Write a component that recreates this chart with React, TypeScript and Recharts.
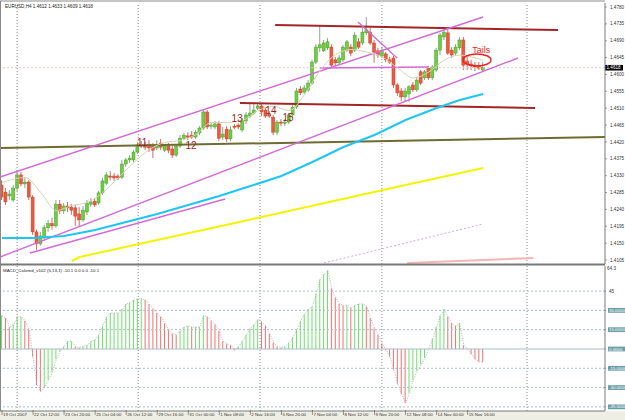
import React from "react"
import { ComposedChart, Bar, Line, XAxis, YAxis, ReferenceLine, ReferenceDot, Cell } from "recharts"

// EURUSD H4 candles, bar 0 = 19 Oct 2007
const opens = [
  1.4305, 1.4286, 1.4276, 1.4265, 1.4297, 1.4332, 1.4308, 1.4313, 1.4273, 1.418,
  1.4148, 1.4164, 1.4191, 1.4202, 1.4196, 1.4254, 1.4236, 1.4249, 1.4246, 1.4244,
  1.4228, 1.4212, 1.4233, 1.4254, 1.4262, 1.4257, 1.4284, 1.431, 1.4329, 1.4329,
  1.4329, 1.4326, 1.4361, 1.4372, 1.4372, 1.4393, 1.4412, 1.4412, 1.4414, 1.4409,
  1.4404, 1.4417, 1.4398, 1.4409, 1.4401, 1.4385, 1.4409, 1.443, 1.4436, 1.4438,
  1.4433, 1.4444, 1.4457, 1.45, 1.4462, 1.446, 1.4468, 1.4433, 1.4454, 1.4428,
  1.4462, 1.4465, 1.4452, 1.4476, 1.4489, 1.4497, 1.451, 1.4516, 1.4505, 1.4494,
  1.4486, 1.4446, 1.4473, 1.447, 1.4473, 1.4492, 1.4513, 1.4561, 1.4553, 1.4558,
  1.4577, 1.4633, 1.4671, 1.4663, 1.4671, 1.4673, 1.4639, 1.4631, 1.4639, 1.4665,
  1.4673, 1.4665, 1.4687, 1.4684, 1.4711, 1.4713, 1.4684, 1.4663, 1.4649, 1.4655,
  1.4639, 1.4644, 1.4572, 1.4556, 1.454, 1.4548, 1.4572, 1.4559, 1.4607, 1.4591,
  1.4617, 1.4591, 1.4612, 1.4665, 1.47, 1.4711, 1.4665, 1.4657, 1.4671, 1.4692,
  1.4636, 1.4628, 1.4625, 1.4623, 1.4612,
]
const highs = [
  1.4318, 1.4297, 1.4292, 1.4305, 1.4345, 1.434, 1.4324, 1.4318, 1.4278, 1.4186,
  1.418, 1.4199, 1.4212, 1.4218, 1.4265, 1.4265, 1.4257, 1.426, 1.4254, 1.4252,
  1.4246, 1.4249, 1.4265, 1.427, 1.427, 1.4289, 1.4324, 1.434, 1.4342, 1.4337,
  1.4334, 1.4372, 1.4377, 1.4385, 1.4398, 1.442, 1.4422, 1.442, 1.4425, 1.4417,
  1.4425, 1.4428, 1.4414, 1.4417, 1.4409, 1.4414, 1.4438, 1.4444, 1.4446, 1.4449,
  1.4452, 1.4462, 1.4505, 1.4505, 1.4473, 1.4476, 1.4476, 1.446, 1.4462, 1.4462,
  1.4468, 1.447, 1.4484, 1.45, 1.4524, 1.4524, 1.4524, 1.4521, 1.4513, 1.4502,
  1.4492, 1.4478, 1.4481, 1.4481, 1.4497, 1.4518, 1.4564, 1.4569, 1.4572, 1.4585,
  1.4639, 1.4681, 1.4732, 1.4692, 1.4697, 1.4681, 1.4647, 1.4652, 1.4679, 1.4692,
  1.4681, 1.4713, 1.4697, 1.4724, 1.4753, 1.4724, 1.4692, 1.4671, 1.4673, 1.466,
  1.4647, 1.4649, 1.4577, 1.4564, 1.4564, 1.4572, 1.458, 1.4593, 1.4612, 1.4612,
  1.4623, 1.4625, 1.4671, 1.4711, 1.4727, 1.4719, 1.4673, 1.4681, 1.47, 1.47,
  1.4647, 1.4639, 1.4633, 1.4633, 1.4633,
]
const lows = [
  1.4265, 1.4252, 1.4265, 1.426, 1.4289, 1.4302, 1.4297, 1.4265, 1.4172, 1.4132,
  1.4143, 1.4159, 1.418, 1.4186, 1.4191, 1.4228, 1.4228, 1.4233, 1.4226, 1.4196,
  1.4193, 1.4207, 1.4225, 1.4246, 1.4246, 1.4252, 1.4278, 1.4305, 1.4318, 1.4316,
  1.4318, 1.4321, 1.4353, 1.4364, 1.4366, 1.4388, 1.4404, 1.4398, 1.4393, 1.4377,
  1.4398, 1.4398, 1.4393, 1.439, 1.4377, 1.438, 1.4404, 1.4425, 1.4425, 1.4428,
  1.4428, 1.4438, 1.4452, 1.4454, 1.4454, 1.4454, 1.4422, 1.4425, 1.442, 1.4422,
  1.4454, 1.4454, 1.4446, 1.4468, 1.4484, 1.4492, 1.4505, 1.4489, 1.4484, 1.4484,
  1.4438, 1.4438, 1.4462, 1.4462, 1.4468, 1.4486, 1.4508, 1.4545, 1.4548, 1.4553,
  1.4572, 1.4628, 1.466, 1.466, 1.4665, 1.4617, 1.4623, 1.4625, 1.4633, 1.466,
  1.4649, 1.466, 1.4668, 1.4679, 1.4705, 1.4679, 1.4631, 1.4644, 1.4644, 1.4633,
  1.4628, 1.4564, 1.4543, 1.4529, 1.4529, 1.4527, 1.4553, 1.4553, 1.4572, 1.4585,
  1.4585, 1.4585, 1.4607, 1.4652, 1.4692, 1.4652, 1.4644, 1.4649, 1.4665, 1.4612,
  1.4612, 1.4612, 1.4609, 1.4612, 1.4609,
]
const closes = [
  1.4273, 1.426, 1.4281, 1.4297, 1.4332, 1.4308, 1.4313, 1.4273, 1.418, 1.4148,
  1.4169, 1.4191, 1.4202, 1.4196, 1.4254, 1.4236, 1.4249, 1.4244, 1.4238, 1.4222,
  1.4212, 1.4238, 1.4257, 1.426, 1.4252, 1.4284, 1.4316, 1.4332, 1.4326, 1.4324,
  1.4324, 1.4361, 1.4372, 1.4377, 1.4393, 1.4412, 1.4409, 1.4406, 1.4404, 1.4398,
  1.4412, 1.4406, 1.4409, 1.4398, 1.4385, 1.4409, 1.443, 1.4438, 1.4433, 1.4433,
  1.4446, 1.4457, 1.45, 1.446, 1.4465, 1.4468, 1.443, 1.4441, 1.4428, 1.4452,
  1.446, 1.446, 1.4478, 1.4492, 1.4497, 1.4505, 1.4516, 1.45, 1.4489, 1.4489,
  1.4446, 1.4473, 1.447, 1.4473, 1.4492, 1.4513, 1.4556, 1.4551, 1.4564, 1.4577,
  1.4633, 1.4673, 1.4679, 1.4684, 1.4687, 1.4625, 1.4631, 1.4644, 1.4673, 1.4687,
  1.4657, 1.4705, 1.4673, 1.4713, 1.4719, 1.4684, 1.466, 1.4652, 1.4665, 1.4639,
  1.4633, 1.4572, 1.4551, 1.454, 1.4556, 1.4567, 1.4559, 1.4585, 1.4577, 1.4607,
  1.4591, 1.462, 1.4665, 1.4705, 1.4713, 1.4657, 1.4652, 1.4673, 1.4692, 1.4625,
  1.4628, 1.4623, 1.462, 1.4617, 1.4618,
]

// MACD_Colored (5,13,1) histogram
const macd = [
  26, 24, 17, 19, 25, 25, 22, 15, -6, -28,
  -33, -30, -24, -18, -8, -2, 2, 6, 6, 2,
  1, 2, 3, 6, 7, 11, 18, 25, 28, 28,
  28, 31, 35, 36, 38, 39, 39, 38, 35, 31,
  28, 25, 20, 15, 12, 11, 14, 17, 18, 17,
  17, 17, 26, 25, 22, 19, 14, 6, 4, 3,
  -1, 2, 6, 11, 16, 19, 23, 21, 18, 12,
  5, 2, 1, 2, 5, 9, 15, 22, 27, 31,
  33, 43, 54, 58, 61, 47, 40, 35, 34, 34,
  32, 34, 35, 35, 33, 24, 16, 11, 4, -1,
  -6, -16, -27, -35, -42, -34, -24, -17, -12, -7,
  0, 8, 17, 26, 31, 25, 20, 18, 20, 3,
  0, -4, -8, -10, -10.1,
]

// moving averages, [bar, price]
const cyanMA = [
  [0, 1.41637], [8, 1.41637], [16, 1.4169], [24, 1.4185], [32, 1.42064], [40, 1.42277],
  [48, 1.42517], [56, 1.42757], [64, 1.43024], [72, 1.43291], [80, 1.43665], [88, 1.44065],
  [96, 1.44386], [104, 1.44785], [112, 1.45105], [118, 1.45319], [124, 1.45479],
]
const yellowMA = [[18, 1.41023], [20, 1.4113], [40, 1.41583], [60, 1.42037], [82, 1.42544], [104, 1.43051], [124, 1.43504]]
const dottedMA = [[83, 1.4097], [124, 1.4201]]
const tanMA = [
  [0, 1.43117], [6, 1.43251], [10, 1.42851], [14, 1.4237], [18, 1.42504], [22, 1.42584],
  [26, 1.42851], [30, 1.43251], [34, 1.43651], [38, 1.43998], [42, 1.44185], [46, 1.44238],
  [50, 1.44398], [54, 1.44718], [58, 1.44718], [62, 1.44772], [66, 1.45038], [70, 1.45145],
  [74, 1.45038], [78, 1.45465], [82, 1.46106], [86, 1.46533], [90, 1.46666], [94, 1.46599],
  [98, 1.46466], [102, 1.46172], [106, 1.45906], [110, 1.46066], [114, 1.46386], [118, 1.46519],
  [122, 1.46439], [124, 1.46386],
]

// drawn objects, [[bar, price], [bar, price]]
const channelLines = [
  [[-0.5, 1.43264], [124, 1.47533]],
  [[-0.5, 1.4113], [133, 1.46439]],
  [[7.2, 1.41237], [57.5, 1.42678]],
  [[82, 1.46173], [109.8, 1.46199]],
  [[91.75, 1.474], [101.8, 1.46439]],
]
const resistanceLines = [
  [[70.4, 1.4732], [143.3, 1.47186]],
  [[61.3, 1.45239], [137.4, 1.45105]],
]
const supportLine = [[-0.5, 1.44038], [155.4, 1.44331]]
const slowMALine = [[104.4, 1.4097], [136.9, 1.41103]]
const waveLabels = [
  { text: "11", bar: 36.1, price: 1.44198 },
  { text: "12", bar: 48.7, price: 1.44118 },
  { text: "13", bar: 60.6, price: 1.44812 },
  { text: "14", bar: 69.3, price: 1.45052 },
  { text: "15", bar: 73.7, price: 1.44865 },
]
const tailsNote = { text: "Tails", bar: 123.5, price: 1.46653 }
const tailsCircle = { bar: 122.4, price: 1.46386 }

const gridBars = [3.9, 35.1, 66.5, 97.9, 135.3]
const timeTicks = [0, 8, 16, 24, 32, 40, 48, 56, 64, 72, 80, 88, 96, 104, 112, 120]
const timeLabels = [
  "19 Oct 2007", "22 Oct 12:00", "23 Oct 20:00", "25 Oct 04:00", "26 Oct 12:00", "29 Oct 16:00",
  "31 Oct 00:00", "1 Nov 08:00", "2 Nov 16:00", "5 Nov 20:00", "7 Nov 04:00", "8 Nov 12:00",
  "9 Nov 20:00", "12 Nov 08:00", "14 Nov 00:00", "15 Nov 16:00",
]
const priceTicks = [
  1.478, 1.4735, 1.469, 1.4645, 1.46, 1.4555, 1.451, 1.4465, 1.442, 1.4375, 1.433, 1.4285,
  1.424, 1.4195, 1.415, 1.4105,
]
const macdLevels = [45, 30, 15, 0, -15, -30, -45]
const bid = 1.4618

const X_DOMAIN = [-0.515, 155.4]
const FONT = "Liberation Sans, Arial, sans-serif"

const Candle = (props: any) => {
  const { x, y, width, height, payload } = props
  const { o, h, l, c } = payload
  const top = Math.min(y, y + height)
  const hh = Math.abs(height)
  const k = h === l ? 0 : hh / (h - l)
  const up = c >= o
  const bt = top + (h - Math.max(o, c)) * k
  const bb = top + (h - Math.min(o, c)) * k
  const cx = x + width / 2
  return (
    <g>
      <line x1={cx} x2={cx} y1={top} y2={top + hh} stroke={up ? "#8aa886" : "#c87060"} strokeWidth={1} />
      <rect
        x={x}
        y={bt}
        width={width}
        height={Math.max(1, bb - bt)}
        fill={up ? "#6ccf3f" : "#ec5a3e"}
        stroke={up ? "#4f9a2c" : "#c8432c"}
        strokeWidth={0.5}
      />
    </g>
  )
}

const PriceTick = (props: any) => {
  const { x, y, payload } = props
  return (
    <text x={x + 1} y={y + 1.6} fontSize={4.6} fill="#333" fontFamily={FONT}>
      {payload.value.toFixed(4)}
    </text>
  )
}

const MacdTick = (props: any) => {
  const { x, y, payload } = props
  const v = payload.value
  if (v === 45) {
    return (
      <text x={x + 1} y={y + 1.6} fontSize={4.6} fill="#333" fontFamily={FONT}>
        45
      </text>
    )
  }
  return (
    <g>
      <rect x={x} y={y - 2.4} width={18} height={4.8} fill="#6d9ea6" />
      <text x={x + 1} y={y + 1.6} fontSize={4.4} fill="#fff" fontFamily={FONT}>
        {v.toFixed(4)}
      </text>
    </g>
  )
}

const TimeTick = (props: any) => {
  const { x, y, payload } = props
  const idx = timeTicks.indexOf(payload.value)
  return (
    <g>
      <line x1={x} x2={x} y1={y - 3} y2={y + 2} stroke="#555" strokeWidth={0.6} />
      <text x={x + 1} y={y + 3.2} fontSize={4.4} fill="#333" fontFamily={FONT}>
        {timeLabels[idx]}
      </text>
    </g>
  )
}

const BidLabel = (props: any) => {
  const vb = props.viewBox || {}
  const xr = (vb.x || 0) + (vb.width || 0)
  const yy = vb.y || 0
  return (
    <g>
      <rect x={xr} y={yy - 2.8} width={18} height={5.6} fill="#000" />
      <text x={xr + 1.5} y={yy + 1.6} fontSize={4.6} fill="#fff" fontFamily={FONT}>
        {bid.toFixed(4)}
      </text>
    </g>
  )
}

export default function App() {
  const rows: any[] = opens.map((o, i) => ({
    i,
    o,
    h: highs[i],
    l: lows[i],
    c: closes[i],
    range: [lows[i], highs[i]],
    macd: macd[i],
  }))
  const addSparse = (key: string, pts: number[][]) => pts.forEach(([b, v]) => (rows[b][key] = v))
  addSparse("cyan", cyanMA)
  addSparse("yellow", yellowMA)
  addSparse("dotted", dottedMA)
  addSparse("tan", tanMA)

  const seg = (s: number[][]) => [
    { x: s[0][0], y: s[0][1] },
    { x: s[1][0], y: s[1][1] },
  ]

  return (
    <div style={{ position: "absolute", left: 0, top: 0, width: 625, height: 420, background: "#fff", overflow: "hidden" }}>
      <div style={{ position: "absolute", left: 0, top: 411, width: 625, height: 9, background: "#efeee4" }} />

      <div style={{ position: "absolute", left: 0, top: 0 }}>
        <ComposedChart width={625} height={265} data={rows} margin={{ top: 3, right: 0, bottom: 1, left: 0 }}>
          <XAxis dataKey="i" type="number" domain={X_DOMAIN} hide allowDataOverflow />
          <YAxis
            orientation="right"
            width={20}
            domain={[1.40943, 1.47907]}
            ticks={priceTicks}
            interval={0}
            allowDataOverflow
            tick={<PriceTick />}
            tickSize={2}
            tickLine={{ stroke: "#666", strokeWidth: 0.6 }}
            axisLine={{ stroke: "#7a7a7a" }}
          />
          {gridBars.map((b) => (
            <ReferenceLine key={"g" + b} x={b} stroke="#8a8a8a" strokeDasharray="1 2" />
          ))}
          <ReferenceLine y={bid} stroke="#f0c4c4" strokeDasharray="2 2" label={<BidLabel />} />
          <ReferenceLine segment={seg(supportLine)} stroke="#6e6c32" strokeWidth={2} ifOverflow="visible" />
          <ReferenceLine segment={seg(slowMALine)} stroke="#f6b4b4" strokeWidth={2} ifOverflow="visible" />
          {resistanceLines.map((s, k) => (
            <ReferenceLine key={"r" + k} segment={seg(s)} stroke="#a32626" strokeWidth={2} ifOverflow="visible" />
          ))}
          {channelLines.map((s, k) => (
            <ReferenceLine key={"c" + k} segment={seg(s)} stroke="#d46ad8" strokeWidth={1.4} ifOverflow="visible" />
          ))}
          <Line dataKey="yellow" stroke="#f4f400" strokeWidth={2} dot={false} connectNulls isAnimationActive={false} />
          <Line dataKey="dotted" stroke="#d9a6e0" strokeWidth={1} strokeDasharray="2 2" dot={false} connectNulls isAnimationActive={false} />
          <Line dataKey="cyan" stroke="#1ec6f4" strokeWidth={2} dot={false} connectNulls isAnimationActive={false} />
          <Line dataKey="tan" stroke="#d9d2b4" strokeWidth={1} dot={false} connectNulls type="monotone" isAnimationActive={false} />
          <Bar dataKey="range" barSize={3} shape={<Candle />} isAnimationActive={false} />
          {waveLabels.map((w) => (
            <ReferenceDot
              key={w.text}
              x={w.bar}
              y={w.price}
              r={0}
              shape={(p: any) => (
                <text x={p.cx} y={p.cy + 3.5} textAnchor="middle" fontSize={10} fill="#a01c1c" fontFamily={FONT}>
                  {w.text}
                </text>
              )}
            />
          ))}
          <ReferenceDot
            x={tailsNote.bar}
            y={tailsNote.price}
            r={0}
            shape={(p: any) => (
              <text x={p.cx} y={p.cy + 3} textAnchor="middle" fontSize={9} fill="#f01e1e" fontFamily={FONT}>
                {tailsNote.text}
              </text>
            )}
          />
          <ReferenceDot
            x={tailsCircle.bar}
            y={tailsCircle.price}
            r={0}
            shape={(p: any) => <ellipse cx={p.cx} cy={p.cy} rx={14} ry={6} fill="none" stroke="#f01e1e" strokeWidth={1.4} />}
          />
        </ComposedChart>
      </div>

      <div style={{ position: "absolute", left: 0, top: 264 }}>
        <ComposedChart width={625} height={156} data={rows} margin={{ top: 2, right: 0, bottom: 0, left: 0 }}>
          <XAxis
            dataKey="i"
            type="number"
            domain={X_DOMAIN}
            allowDataOverflow
            ticks={timeTicks}
            interval={0}
            height={9}
            tickSize={0}
            tick={<TimeTick />}
            axisLine={{ stroke: "#7a7a7a" }}
          />
          <YAxis
            orientation="right"
            width={20}
            domain={[-48.2, 64.5]}
            ticks={macdLevels}
            interval={0}
            allowDataOverflow
            tick={<MacdTick />}
            tickSize={1}
            tickLine={{ stroke: "#666", strokeWidth: 0.6 }}
            axisLine={{ stroke: "#7a7a7a" }}
          />
          {gridBars.map((b) => (
            <ReferenceLine key={"g" + b} x={b} stroke="#8a8a8a" strokeDasharray="1 2" />
          ))}
          {macdLevels.map((v) => (
            <ReferenceLine
              key={"l" + v}
              y={v}
              stroke={v === 0 ? "#a9bcc6" : "#a6bcc8"}
              strokeDasharray={v === 0 ? undefined : "2 2"}
            />
          ))}
          <Bar dataKey="macd" barSize={1} isAnimationActive={false}>
            {rows.map((r, k) => (
              <Cell key={k} fill={k > 0 && r.macd < macd[k - 1] ? "#f07070" : "#6ee06a"} />
            ))}
          </Bar>
          <Line dataKey="macd" stroke="#b4b4b4" strokeWidth={1} strokeDasharray="1 1.5" dot={false} isAnimationActive={false} />
        </ComposedChart>
      </div>

      <svg width={625} height={420} style={{ position: "absolute", left: 0, top: 0, pointerEvents: "none" }}>
        <line x1={0} x2={605} y1={1} y2={1} stroke="#8a8a8a" strokeWidth={1} />
        <line x1={0.5} x2={0.5} y1={1} y2={411} stroke="#8a8a8a" strokeWidth={1} />
        <line x1={0} x2={605} y1={264.5} y2={264.5} stroke="#7a7a7a" strokeWidth={2} />
        <text x={5} y={7.5} fontSize={4.6} fill="#222" fontFamily={FONT}>
          EURUSD,H4 1.4612 1.4633 1.4609 1.4618
        </text>
        <text x={3} y={271.5} fontSize={4.4} fill="#222" fontFamily={FONT}>
          MACD_Colored_v102 (5,13,1) -10.1 0.0 0.0 -10.1
        </text>
        <text x={607} y={270} fontSize={4.6} fill="#333" fontFamily={FONT}>
          64.3
        </text>
      </svg>
    </div>
  )
}
